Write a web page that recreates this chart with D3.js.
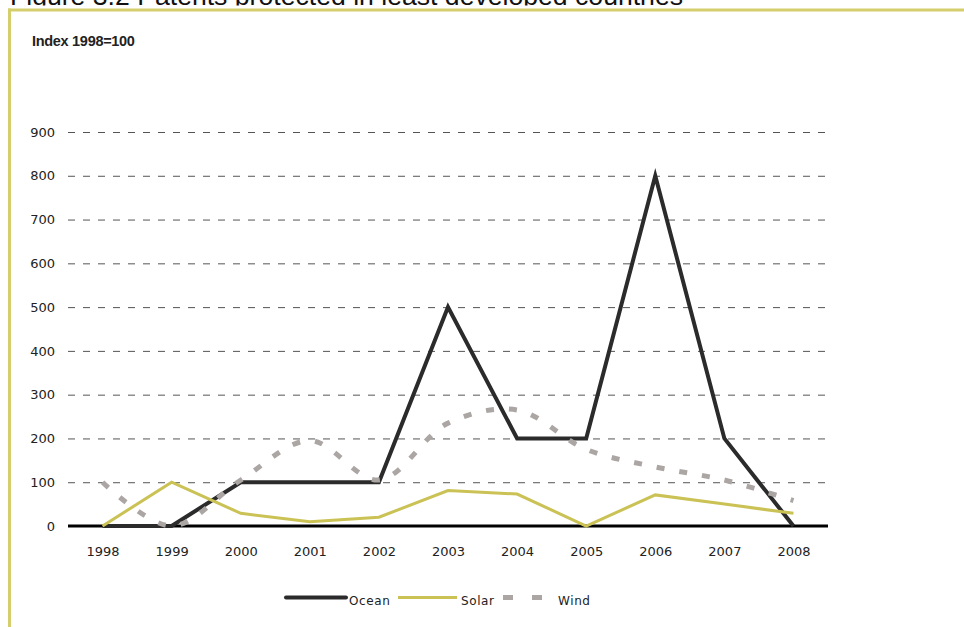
<!DOCTYPE html>
<html>
<head>
<meta charset="utf-8">
<script src="https://cdn.jsdelivr.net/npm/d3@7"></script>
<style>
  body { margin: 0; background: #fff; }
  #canvas { width: 964px; height: 627px; overflow: hidden; }
</style>
</head>
<body>
<div id="canvas"></div>
<script>
const years = ["1998", "1999", "2000", "2001", "2002", "2003", "2004", "2005", "2006", "2007", "2008"];
const ocean = [0, 0, 100, 100, 100, 500, 200, 200, 800, 200, 0];
const solar = [0, 100, 29, 10, 20, 81, 73, 0, 71, 50, 29];
const wind = [100, 0, 105, 195, 105, 235, 265, 175, 135, 105, 58];
const yTicks = [0, 100, 200, 300, 400, 500, 600, 700, 800, 900];
const seriesNames = ["Ocean", "Solar", "Wind"];

const titleText = "Figure 3.2 Patents protected in least developed countries";
const unitText = "Index 1998=100";

const width = 964, height = 627;
const frameColor = "#d5ce6d";

const svg = d3.select("#canvas")
    .append("svg")
    .attr("width", width)
    .attr("height", height);

// Title (clipped at the top of the frame like the source)
svg.append("text")
    .attr("x", 10)
    .attr("y", 5)
    .attr("textLength", 673)
    .attr("lengthAdjust", "spacingAndGlyphs")
    .style("font-family", "'Liberation Sans', Arial, sans-serif")
    .style("font-size", "26px")
    .style("fill", "#111")
    .text(titleText);
svg.append("rect")
    .attr("x", 0).attr("y", 5.5)
    .attr("width", width).attr("height", 4.5)
    .style("fill", "#fff");

// Frame lines
svg.append("line")
    .attr("x1", 8).attr("x2", width)
    .attr("y1", 10).attr("y2", 10)
    .attr("stroke", frameColor)
    .attr("stroke-width", 3);
svg.append("line")
    .attr("x1", 9.5).attr("x2", 9.5)
    .attr("y1", 8.5).attr("y2", height)
    .attr("stroke", frameColor)
    .attr("stroke-width", 3);

svg.append("text")
    .attr("x", 32)
    .attr("y", 45.5)
    .style("font-family", "'Liberation Sans', Arial, sans-serif")
    .style("font-size", "14.5px")
    .style("font-weight", "bold")
    .style("letter-spacing", "-0.3px")
    .style("fill", "#222")
    .text(unitText);

// Scales
const x = d3.scalePoint()
    .domain(years)
    .range([68, 828])
    .padding(0.5);

const y = d3.scaleLinear()
    .domain([0, 900])
    .range([526, 132]);

// Grid lines
svg.append("g")
    .selectAll("line")
    .data(yTicks.filter(d => d > 0))
    .enter()
    .append("line")
    .attr("x1", 68).attr("x2", 828)
    .attr("y1", d => y(d) + 0.5).attr("y2", d => y(d) + 0.5)
    .attr("stroke", "#555")
    .attr("stroke-width", 1)
    .attr("stroke-dasharray", "7,8");

// Y axis labels
const yAxis = svg.append("g")
    .attr("transform", "translate(68,0)")
    .call(d3.axisLeft(y).tickValues(yTicks).tickSize(0).tickPadding(13));
yAxis.select(".domain").remove();
yAxis.selectAll("text")
    .style("font-family", "'DejaVu Sans', sans-serif")
    .style("font-size", "13px")
    .style("fill", "#222");

// X axis
const xAxis = svg.append("g")
    .attr("transform", "translate(0,526)")
    .call(d3.axisBottom(x).tickSize(0).tickPadding(21));
xAxis.select(".domain").remove();
xAxis.selectAll("text")
    .style("font-family", "'DejaVu Sans', sans-serif")
    .style("font-size", "13px")
    .style("fill", "#222");

svg.append("line")
    .attr("x1", 68).attr("x2", 828)
    .attr("y1", y(0)).attr("y2", y(0))
    .attr("stroke", "#000")
    .attr("stroke-width", 3);

// Lines
const straight = d3.line()
    .x((d, i) => x(years[i]))
    .y(d => y(d));

const smooth = d3.line()
    .x((d, i) => x(years[i]))
    .y(d => y(d))
    .curve(d3.curveCatmullRom);

const styles = {
    Ocean: { color: "#2b2b2b", width: 4, dash: null },
    Solar: { color: "#cbc255", width: 3, dash: null },
    Wind: { color: "#aba6a4", width: 5, dash: "8,15" }
};

svg.append("path")
    .datum(ocean)
    .attr("d", straight)
    .attr("fill", "none")
    .attr("stroke", styles.Ocean.color)
    .attr("stroke-width", styles.Ocean.width)
    .attr("stroke-linejoin", "miter");

svg.append("path")
    .datum(solar)
    .attr("d", straight)
    .attr("fill", "none")
    .attr("stroke", styles.Solar.color)
    .attr("stroke-width", styles.Solar.width);

svg.append("path")
    .datum(wind)
    .attr("d", smooth)
    .attr("fill", "none")
    .attr("stroke", styles.Wind.color)
    .attr("stroke-width", styles.Wind.width)
    .attr("stroke-dasharray", styles.Wind.dash);

// Legend
const legendItems = [
    { name: "Ocean", x1: 286, x2: 346, tx: 349 },
    { name: "Solar", x1: 398, x2: 457, tx: 461 },
    { name: "Wind", x1: 503, x2: 550, tx: 558 }
];
const legend = svg.append("g");
legend.selectAll("line")
    .data(legendItems)
    .enter()
    .append("line")
    .attr("x1", d => d.x1).attr("x2", d => d.x2)
    .attr("y1", 597.5).attr("y2", 597.5)
    .attr("stroke", d => styles[d.name].color)
    .attr("stroke-width", d => styles[d.name].width)
    .attr("stroke-linecap", d => d.name === "Ocean" ? "round" : "butt")
    .attr("stroke-dasharray", d => d.name === "Wind" ? "10,19" : null);
legend.selectAll("text")
    .data(legendItems)
    .enter()
    .append("text")
    .attr("x", d => d.tx)
    .attr("y", 605)
    .style("font-family", "'DejaVu Sans', sans-serif")
    .style("font-size", "12px")
    .style("letter-spacing", "0.6px")
    .style("fill", "#222")
    .text(d => d.name);
</script>
</body>
</html>
